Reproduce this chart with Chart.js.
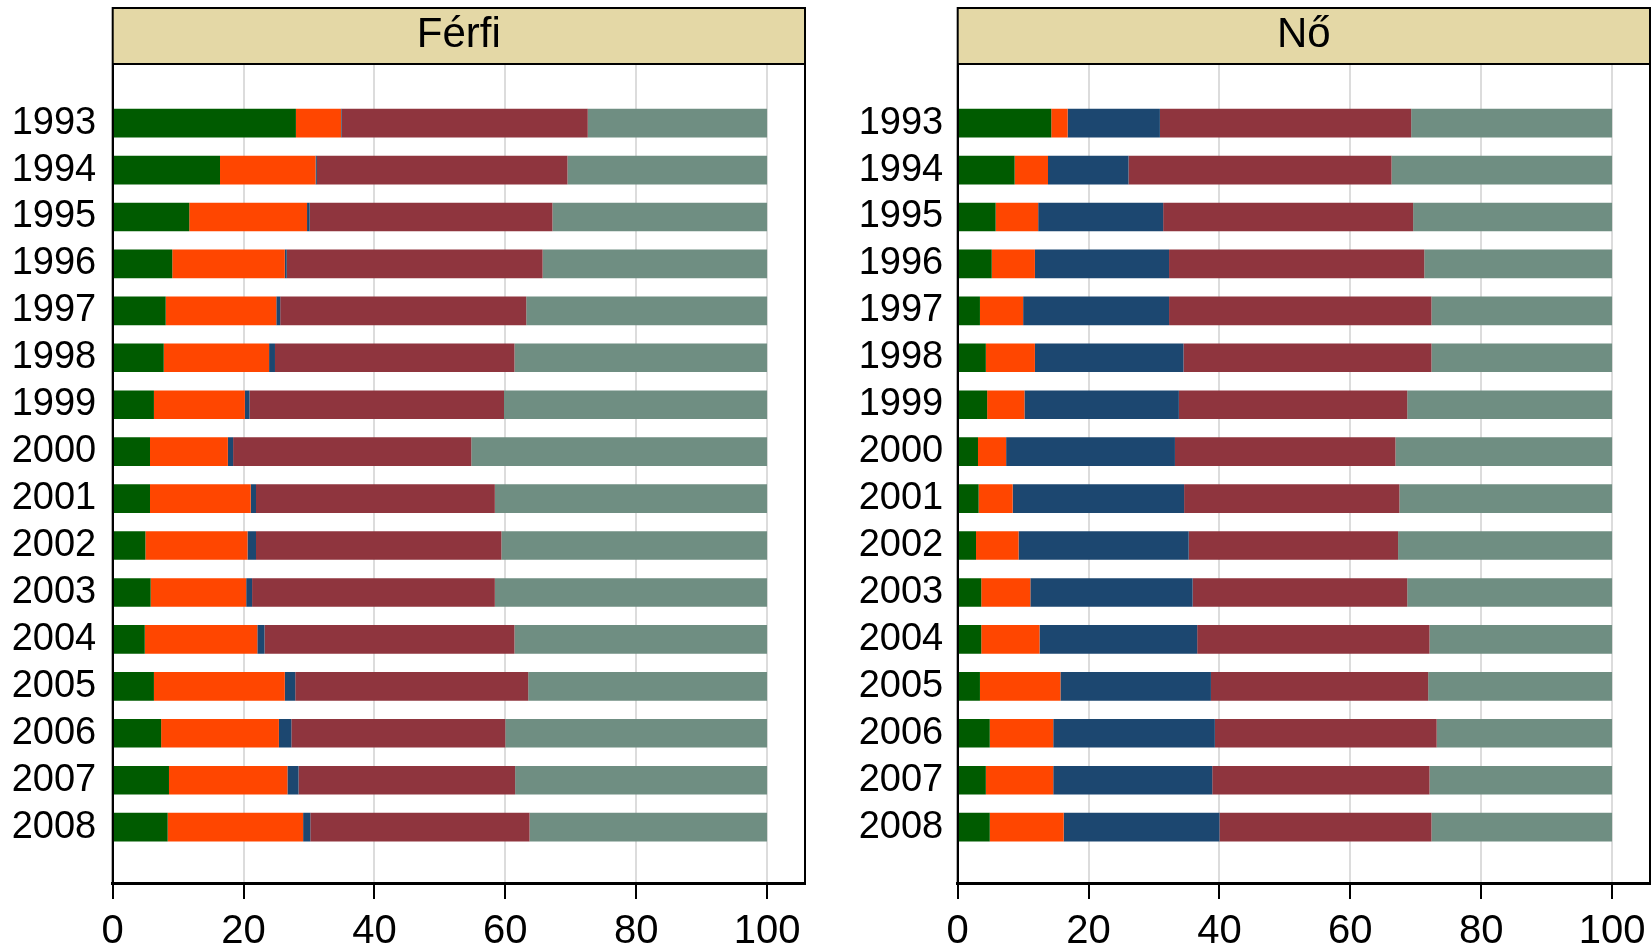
<!DOCTYPE html>
<html>
<head>
<meta charset="utf-8">
<title>Férfi / Nő</title>
<script src="https://cdn.jsdelivr.net/npm/chart.js@4.4.1/dist/chart.umd.min.js"></script>
<style>
  html, body { margin: 0; padding: 0; background: #fff; }
  #wrap { position: relative; width: 1652px; height: 947px; }
  canvas { position: absolute; top: 0; }
  #cFerfi { left: 0; }
  #cNo { left: 826px; }
</style>
</head>
<body>
<div id="wrap">
  <canvas id="cFerfi" width="826" height="947"></canvas>
  <canvas id="cNo" width="826" height="947"></canvas>
</div>
<script>
// évek (kategóriák)
const years = [1993, 1994, 1995, 1996, 1997, 1998, 1999, 2000, 2001, 2002, 2003, 2004, 2005, 2006, 2007, 2008];
const xTicks = [0, 20, 40, 60, 80, 100];

// Férfi - megoszlás (%)
const ferfiGreen  = [28.0, 16.4, 11.7, 9.1, 8.1, 7.8, 6.3, 5.7, 5.7, 5.0, 5.8, 4.9, 6.3, 7.4, 8.6, 8.4];
const ferfiOrange = [6.9, 14.6, 18.0, 17.2, 16.9, 16.1, 13.9, 11.9, 15.4, 15.6, 14.6, 17.2, 20.0, 18.0, 18.1, 20.7];
const ferfiBlue   = [0.1, 0.2, 0.4, 0.3, 0.6, 0.9, 0.7, 0.8, 0.8, 1.3, 0.9, 1.1, 1.6, 1.9, 1.7, 1.1];
const ferfiMaroon = [37.6, 38.3, 37.1, 39.1, 37.6, 36.6, 38.9, 36.4, 36.5, 37.5, 37.1, 38.2, 35.6, 32.7, 33.1, 33.5];
const ferfiSage   = [27.4, 30.5, 32.8, 34.3, 36.8, 38.6, 40.2, 45.2, 41.6, 40.6, 41.6, 38.6, 36.5, 40.0, 38.5, 36.3];

// Nő - megoszlás (%)
const noGreen  = [14.3, 8.7, 5.8, 5.2, 3.4, 4.3, 4.5, 3.1, 3.2, 2.8, 3.6, 3.6, 3.4, 4.9, 4.3, 4.9];
const noOrange = [2.5, 5.1, 6.5, 6.6, 6.6, 7.5, 5.7, 4.3, 5.2, 6.5, 7.5, 8.9, 12.3, 9.7, 10.3, 11.3];
const noBlue   = [14.1, 12.3, 19.1, 20.5, 22.3, 22.7, 23.6, 25.8, 26.2, 26.0, 24.8, 24.1, 23.0, 24.7, 24.3, 23.8];
const noMaroon = [38.4, 40.2, 38.2, 39.0, 40.1, 37.9, 34.9, 33.7, 32.9, 32.0, 32.8, 35.5, 33.2, 33.9, 33.2, 32.4];
const noSage   = [30.7, 33.7, 30.4, 28.7, 27.6, 27.6, 31.3, 33.1, 32.5, 32.7, 31.3, 27.9, 28.1, 26.8, 27.9, 27.6];

const colors = ['#005b00', '#ff4600', '#1c4770', '#8f353e', '#6f8e82'];
const FONT = 'Liberation Sans, Arial, Helvetica, sans-serif';

// fejléc doboz + keret
const panelFrame = {
  id: 'panelFrame',
  beforeDraw(chart) {
    const { ctx, chartArea: a } = chart;
    ctx.save();
    ctx.fillStyle = '#e4d8a6';
    ctx.fillRect(a.left, 8, a.right - a.left, a.top - 8);
    ctx.restore();
  },
  afterDraw(chart) {
    const { ctx, chartArea: a } = chart;
    ctx.save();
    ctx.strokeStyle = '#000';
    ctx.lineWidth = 2;
    ctx.strokeRect(a.left, 8, a.right - a.left, a.bottom - 8);
    ctx.beginPath();
    ctx.moveTo(a.left, a.top);
    ctx.lineTo(a.right, a.top);
    ctx.stroke();
    ctx.restore();
  }
};

function makePanel(id, title, series, axisWidth, padRight, labelPad) {
  const datasets = series.map((vals, i) => ({
    label: 'S' + (i + 1),
    data: vals.map((v, j) => ({ x: v, y: years[j] })),
    backgroundColor: colors[i],
    borderWidth: 0,
    categoryPercentage: 1,
    barPercentage: 0.61
  }));

  return new Chart(document.getElementById(id).getContext('2d'), {
    type: 'bar',
    data: { datasets },
    options: {
      indexAxis: 'y',
      responsive: false,
      animation: false,
      layout: { padding: { top: 8, right: padRight, left: 0, bottom: 0 } },
      plugins: {
        legend: { display: false },
        tooltip: { enabled: false },
        title: {
          display: true,
          text: title,
          fullSize: false,
          color: '#000',
          font: { family: FONT, size: 42, weight: 'normal', lineHeight: 1.1 },
          padding: { top: 4, bottom: 5.8 }
        }
      },
      scales: {
        x: {
          type: 'linear',
          stacked: true,
          min: 0,
          max: 105.8,
          afterBuildTicks: s => { s.ticks = xTicks.map(v => ({ value: v })); },
          afterFit: s => { s.height = 64; s.paddingLeft = 0; s.paddingRight = 0; },
          grid: { color: '#dcdcdc', lineWidth: 2, tickColor: '#000', tickLength: 16, tickWidth: 2 },
          border: { display: true, color: '#000', width: 3 },
          ticks: { color: '#000', padding: 9, font: { family: FONT, size: 40 }, maxRotation: 0 }
        },
        y: {
          type: 'linear',
          stacked: true,
          offset: false,
          reverse: true,
          min: 1991.74,
          max: 2009.19,
          afterBuildTicks: s => { s.ticks = years.map(v => ({ value: v })); },
          afterFit: s => { s.width = axisWidth; },
          grid: { display: false, drawTicks: false, offset: false },
          border: { display: true, color: '#000', width: 2 },
          ticks: {
            color: '#000',
            padding: labelPad,
            autoSkip: false,
            font: { family: FONT, size: 38 },
            callback: v => String(v)
          }
        }
      }
    },
    plugins: [panelFrame]
  });
}

makePanel('cFerfi', 'Férfi', [ferfiGreen, ferfiOrange, ferfiBlue, ferfiMaroon, ferfiSage], 112.7, 21, 16.5);
makePanel('cNo', 'Nő', [noGreen, noOrange, noBlue, noMaroon, noSage], 131.7, 2, 14.5);
</script>
</body>
</html>
